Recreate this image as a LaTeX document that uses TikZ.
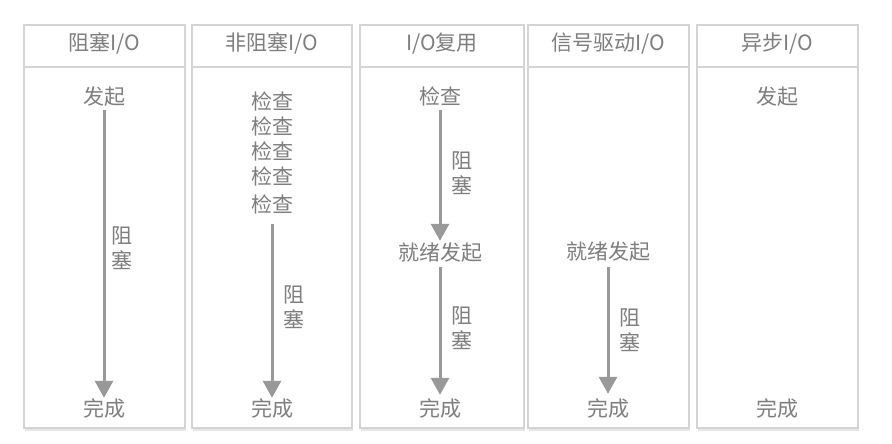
\documentclass[tikz,border=0pt]{standalone}
\usepackage{fontspec}
\setmainfont{Noto Sans CJK SC}
\usetikzlibrary{arrows.meta}
\definecolor{boxline}{HTML}{D4D4D4}
\definecolor{shadowline}{HTML}{E6E6E6}
\definecolor{txtgray}{HTML}{7E7E7E}
\definecolor{arrgray}{HTML}{999999}
\tikzset{
  colbox/.style={draw=boxline, line width=1.1pt, fill=white},
  lbl/.style={font=\fontsize{21pt}{24pt}\selectfont, text=txtgray, inner sep=0pt, text height=15pt, text depth=3pt},
  vlbl/.style={font=\fontsize{21pt}{25pt}\selectfont, text=txtgray, inner sep=0pt, align=center},
  flow/.style={draw=arrgray, line width=3pt, -{Triangle[width=18pt,length=17pt]}, shorten <=3pt, shorten >=3pt}
}
\begin{document}
\begin{tikzpicture}[x=1pt,y=-1pt]
\useasboundingbox (0,0) rectangle (892,444);
% columns
\foreach \l/\w in {24/161,192/160,360/164,528/161,697/161}{
  \draw[shadowline, line width=2pt] (\l+1,430) -- (\l+\w+1,430);
  \draw[colbox] (\l,25) rectangle (\l+\w,428);
  \draw[boxline, line width=2pt] (\l,67) -- (\l+\w,67);
}
% headers
\node[lbl] (h1) at (104,45) {阻塞I/O};
\node[lbl] (h2) at (272,45) {非阻塞I/O};
\node[lbl] (h3) at (442,45) {I/O复用};
\node[lbl] (h4) at (608,45) {信号驱动I/O};
\node[lbl] (h5) at (777,45) {异步I/O};
% column 1
\node[lbl] (a1) at (104,98) {发起};
\node[lbl] (a2) at (104,410) {完成};
\node[vlbl] (a3) at (122,248) {阻\\塞};
\draw[flow] (a1.south) -- (a2.north);
% column 2
\node[lbl] (b1) at (272,104) {检查};
\node[lbl] (b2) at (272,128) {检查};
\node[lbl] (b3) at (272,153) {检查};
\node[lbl] (b4) at (272,178) {检查};
\node[lbl] (b5) at (272,206) {检查};
\node[lbl] (b6) at (272,410) {完成};
\node[vlbl] (b7) at (294,307) {阻\\塞};
\draw[flow, shorten <=9pt] (b5.south) -- (b6.north);
% column 3
\node[lbl] (c1) at (440,98) {检查};
\node[lbl] (c2) at (440,254) {就绪发起};
\node[lbl] (c3) at (440,410) {完成};
\node[vlbl] (c4) at (462,173) {阻\\塞};
\node[vlbl] (c5) at (462,328) {阻\\塞};
\draw[flow, shorten >=4pt] (c1.south) -- (c2.north);
\draw[flow, shorten <=4pt, shorten >=6pt] (c2.south) -- (c3.north);
% column 4
\node[lbl] (d1) at (608,253) {就绪发起};
\node[lbl] (d2) at (608,410) {完成};
\node[vlbl] (d3) at (630,330) {阻\\塞};
\draw[flow, shorten <=5pt, shorten >=7pt] (d1.south) -- (d2.north);
% column 5
\node[lbl] (e1) at (777,98) {发起};
\node[lbl] (e2) at (777,410) {完成};
\end{tikzpicture}
\end{document}
